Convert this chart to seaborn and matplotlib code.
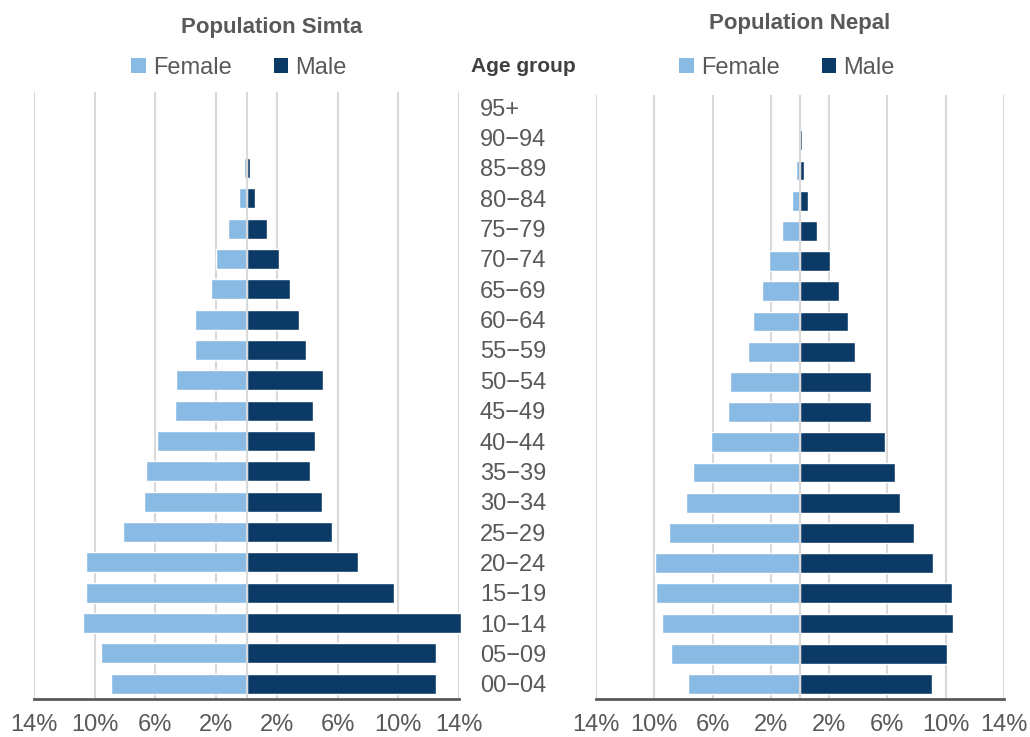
import numpy as np
import pandas as pd
import seaborn as sns
import matplotlib
matplotlib.use("Agg")
import matplotlib.pyplot as plt
from matplotlib.patches import Patch

# ---------------- data ----------------
age_groups = ["95+", "90−94", "85−89", "80−84", "75−79", "70−74", "65−69",
              "60−64", "55−59", "50−54", "45−49", "40−44", "35−39", "30−34",
              "25−29", "20−24", "15−19", "10−14", "05−09", "00−04"]

simta_female = [0.02, 0.05, 0.18, 0.5, 1.21, 2.0, 2.35, 3.37, 3.4, 4.65, 4.72,
                5.9, 6.63, 6.75, 8.13, 10.6, 10.6, 10.8, 9.57, 8.96]
simta_male = [0.02, 0.05, 0.2, 0.57, 1.37, 2.15, 2.87, 3.48, 3.94, 5.02, 4.36,
              4.5, 4.19, 4.98, 5.64, 7.35, 9.72, 14.15, 12.5, 12.5]

nepal_female = [0.03, 0.14, 0.27, 0.54, 1.22, 2.1, 2.6, 3.25, 3.57, 4.81, 4.97,
                6.12, 7.37, 7.8, 8.96, 9.95, 9.89, 9.48, 8.87, 7.71]
nepal_male = [0.03, 0.14, 0.27, 0.56, 1.2, 2.06, 2.67, 3.28, 3.77, 4.86, 4.84,
              5.81, 6.55, 6.85, 7.85, 9.12, 10.45, 10.48, 10.11, 9.05]

sexes = ["Female", "Male"]
tick_values = [-14, -10, -6, -2, 2, 6, 10, 14]
tick_labels = ["14%", "10%", "6%", "2%", "2%", "6%", "10%", "14%"]

titles = ["Population Simta", "Population Nepal"]

# ---------------- style ----------------
FEMALE_C = "#89BAE4"
MALE_C = "#0C3A67"
GRID_C = "#D9D9D9"
TEXT_C = "#595959"

sns.set_style("white")
plt.rcParams["font.family"] = ["Liberation Sans", "DejaVu Sans"]

fig = plt.figure(figsize=(10.3, 7.37), dpi=100)
W, H = 1030, 737


def px_axes(x0, x1, ytop, ybot):
    return fig.add_axes([x0 / W, 1 - ybot / H, (x1 - x0) / W, (ybot - ytop) / H])


ax1 = px_axes(34, 459, 92, 699)
ax2 = px_axes(596, 1004, 95, 699)


def long_frame(female, male):
    df = pd.DataFrame({"age": age_groups,
                       "Female": -np.array(female),
                       "Male": np.array(male)})
    return df.melt(id_vars="age", var_name="sex", value_name="value")


def draw(ax, female, male):
    data = long_frame(female, male)
    sns.barplot(data=data, x="value", y="age", hue="sex", order=age_groups,
                hue_order=sexes, palette=[FEMALE_C, MALE_C], dodge=False,
                saturation=1, width=0.66, errorbar=None, edgecolor="white",
                linewidth=1, orient="h", ax=ax, legend=False, zorder=2)
    for p in ax.patches:
        p.set_clip_on(False)
    ax.set_xlim(-14, 14)
    ax.set_ylim(len(age_groups) - 0.5, -0.5)
    ax.set_xticks(tick_values)
    ax.set_xticklabels(tick_labels)
    for v in tick_values:
        ax.axvline(v, color=GRID_C, lw=1.5, zorder=0)
    ax.axvline(0, color=GRID_C, lw=1.5, zorder=3)
    ax.set_xlabel("")
    ax.set_ylabel("")
    for s in ["top", "left", "right"]:
        ax.spines[s].set_visible(False)
    ax.spines["bottom"].set_color(TEXT_C)
    ax.spines["bottom"].set_linewidth(2)
    ax.spines["bottom"].set_zorder(4)
    ax.tick_params(axis="x", length=0, pad=11, labelsize=17, labelcolor=TEXT_C)


draw(ax1, simta_female, simta_male)
draw(ax2, nepal_female, nepal_male)

# age group labels in the middle column
ax1.yaxis.tick_right()
ax1.tick_params(axis="y", length=0, pad=15, labelsize=17, labelcolor=TEXT_C)
for lab in ax1.get_yticklabels():
    lab.set_horizontalalignment("left")
ax2.set_yticks([])

# titles
fig.text(272 / W, 1 - 27 / H, titles[0], ha="center", va="center",
         fontsize=16, fontweight="bold", color=TEXT_C)
fig.text(800 / W, 1 - 24 / H, titles[1], ha="center", va="center",
         fontsize=16, fontweight="bold", color=TEXT_C)
fig.text(523 / W, 1 - 66 / H, "Age group", ha="center", va="center",
         fontsize=15, fontweight="bold", color="#404040")

# legends
handles = [Patch(facecolor=FEMALE_C, edgecolor="none"),
           Patch(facecolor=MALE_C, edgecolor="none")]
for ax, cx in [(ax1, 239), (ax2, 787)]:
    leg = ax.legend(handles, sexes, ncol=2, loc="center",
                    bbox_to_anchor=(cx / W, 1 - 68 / H),
                    bbox_transform=fig.transFigure, frameon=False,
                    fontsize=17, handlelength=0.6, handleheight=0.6,
                    handletextpad=0.3, columnspacing=1.8, borderpad=0)
    for t in leg.get_texts():
        t.set_color(TEXT_C)

fig.savefig("out.png", dpi=100)
